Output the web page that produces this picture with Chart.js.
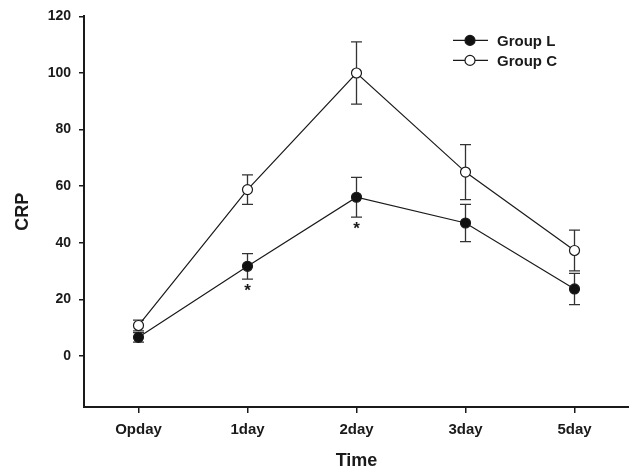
<!DOCTYPE html>
<html>
<head>
<meta charset="utf-8">
<script src="https://cdn.jsdelivr.net/npm/chart.js@4/dist/chart.umd.min.js"></script>
<style>
	html, body { margin: 0; padding: 0; background: #fff; }
	canvas { display: block; }
</style>
</head>
<body>
<canvas id="chart" width="629" height="472"></canvas>
<script>
// CRP の推移（平均値 ± 誤差）
const days = ['Opday', '1day', '2day', '3day', '5day'];
const groupL = [6.6, 31.7, 56.1, 47.0, 23.7];
const groupLErr = [1.7, 4.5, 7.0, 6.6, 5.5];
const groupC = [10.8, 58.8, 100.0, 65.0, 37.3];
const groupCErr = [1.9, 5.2, 11.0, 9.7, 7.2];
const yTicks = [0, 20, 40, 60, 80, 100, 120];
// 有意差あり（Group L の下に * を付ける）
const starDays = ['1day', '2day'];

const FONT = "Arial, 'Liberation Sans', sans-serif";
const INK = '#1a1a1a';

/**
 * エラーバー・アスタリスク・凡例を描くプラグイン
 */
const extras = {
	id: 'extras',
	beforeDatasetsDraw(chart) {
		let ctx = chart.ctx;
		let y = chart.scales.y;
		ctx.save();
		ctx.strokeStyle = '#333';
		ctx.lineWidth = 1.3;
		chart.data.datasets.forEach((ds, i) => {
			let meta = chart.getDatasetMeta(i);
			meta.data.forEach((pt, j) => {
				let hi = y.getPixelForValue(ds.data[j] + ds.err[j]);
				let lo = y.getPixelForValue(ds.data[j] - ds.err[j]);
				ctx.beginPath();
				ctx.moveTo(pt.x, hi); ctx.lineTo(pt.x, lo);
				ctx.moveTo(pt.x - 5.5, hi); ctx.lineTo(pt.x + 5.5, hi);
				ctx.moveTo(pt.x - 5.5, lo); ctx.lineTo(pt.x + 5.5, lo);
				ctx.stroke();
			});
		});
		ctx.restore();
	},
	afterDatasetsDraw(chart) {
		let ctx = chart.ctx;
		let x = chart.scales.x;
		let y = chart.scales.y;
		ctx.save();
		ctx.fillStyle = INK;
		ctx.font = 'bold 17px ' + FONT;
		ctx.textAlign = 'center';
		ctx.textBaseline = 'middle';
		starDays.forEach(d => {
			let j = days.indexOf(d);
			let px = x.getPixelForValue(j);
			let py = y.getPixelForValue(groupL[j] - groupLErr[j]) + 12;
			ctx.fillText('*', px, py);
		});

		// 凡例
		let area = chart.chartArea;
		let lx = area.right - 176;
		let ly = area.top + 24;
		chart.data.datasets.forEach((ds, i) => {
			let cy = ly + i * 20;
			ctx.strokeStyle = INK;
			ctx.lineWidth = 1.2;
			ctx.beginPath();
			ctx.moveTo(lx, cy); ctx.lineTo(lx + 35, cy);
			ctx.stroke();
			ctx.beginPath();
			ctx.arc(lx + 17, cy, 5, 0, Math.PI * 2);
			ctx.fillStyle = ds.pointBackgroundColor;
			ctx.fill();
			ctx.stroke();
			ctx.fillStyle = INK;
			ctx.font = 'bold 15px ' + FONT;
			ctx.textAlign = 'left';
			ctx.fillText(ds.label, lx + 44, cy + 1);
		});
		ctx.restore();
	}
};

function series(label, values, errs, fill) {
	return {
		label: label,
		data: values,
		err: errs,
		borderColor: INK,
		borderWidth: 1.2,
		tension: 0,
		pointRadius: 5,
		pointHoverRadius: 5,
		pointBorderWidth: 1.2,
		pointBorderColor: INK,
		pointBackgroundColor: fill
	};
}

let config = {
	type: 'line',
	data: {
		labels: days,
		datasets: [
			series('Group L', groupL, groupLErr, '#111'),
			series('Group C', groupC, groupCErr, '#fff')
		]
	},
	options: {
		responsive: false,
		devicePixelRatio: 1,
		animation: false,
		layout: { autoPadding: false, padding: { top: 15, right: 0, left: 0, bottom: 0 } },
		plugins: {
			legend: { display: false },
			tooltip: { enabled: false }
		},
		scales: {
			x: {
				offset: true,
				grid: { drawOnChartArea: false, tickLength: 6, color: INK, lineWidth: 1.5 },
				border: { color: INK, width: 2 },
				ticks: { color: INK, padding: 8, font: { family: FONT, size: 15, weight: 'bold' } },
				title: {
					display: true, text: 'Time', color: INK,
					font: { family: FONT, size: 18, weight: 'bold' },
					padding: { top: 0, bottom: 0 }
				},
				afterFit: s => { s.height = 65; s.paddingLeft = 0; s.paddingRight = 0; }
			},
			y: {
				min: -18,
				max: 120,
				afterBuildTicks: s => { s.ticks = yTicks.map(v => ({ value: v })); },
				grid: { drawOnChartArea: false, tickLength: 5, color: INK, lineWidth: 1.5 },
				border: { color: INK, width: 2 },
				ticks: { color: INK, padding: 8, font: { family: FONT, size: 14, weight: 'bold' } },
				title: {
					display: true, text: 'CRP', color: INK,
					font: { family: FONT, size: 18, weight: 'bold' },
					padding: { top: 12, bottom: 0 }
				},
				afterFit: s => { s.width = 84; }
			}
		}
	},
	plugins: [extras]
};

let myChart = new Chart(document.getElementById('chart').getContext('2d'), config);
</script>
</body>
</html>
